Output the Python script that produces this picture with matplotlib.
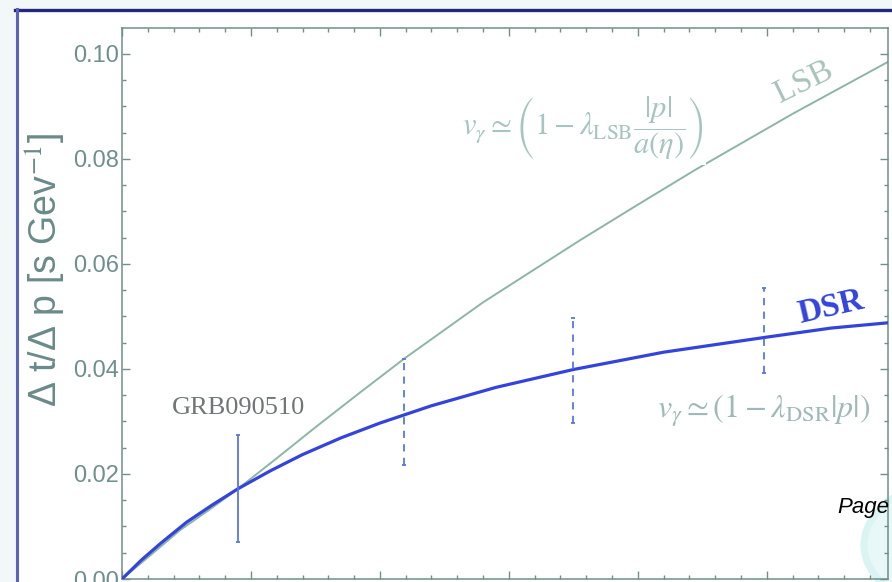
import matplotlib
matplotlib.use("Agg")
import matplotlib.pyplot as plt
import matplotlib.patches as mpatches
from matplotlib.lines import Line2D
import numpy as np

# ---------------------------------------------------------------------------
# Data: time delay per unit momentum vs redshift
# ---------------------------------------------------------------------------
LSB_Z = [0.0, 0.2, 0.45, 0.7, 0.9, 1.2, 1.5, 1.85, 2.19, 2.8, 3.55, 4.0, 4.45, 5.2, 5.94]
LSB_DT = [0.0, 0.0041, 0.0093, 0.0136, 0.0172, 0.0230, 0.0289, 0.0356, 0.0420, 0.0527,
          0.0645, 0.0713, 0.0780, 0.0886, 0.0985]

DSR_Z = [0.0, 0.15, 0.3, 0.5, 0.7, 0.9, 1.15, 1.4, 1.7, 2.0, 2.4, 2.9, 3.5, 4.2,
         4.98, 5.5, 5.94]
DSR_DT = [0.0, 0.0036, 0.0068, 0.0108, 0.0141, 0.0172, 0.0206, 0.0237, 0.0269, 0.0297,
          0.0330, 0.0365, 0.0399, 0.0432, 0.0460, 0.0478, 0.0488]

# GRB090510 measurement
GRB_Z = 0.9
GRB_DT = 0.0172
GRB_ERR = 0.0102

# projected sensitivities (dashed)
PROJ_Z = [2.19, 3.5, 4.98]
PROJ_DT = [0.0318, 0.0399, 0.0460]
PROJ_ERR_LO = [0.0100, 0.0101, 0.0068]
PROJ_ERR_HI = [0.0101, 0.0099, 0.0095]

YTICKS = [0.00, 0.02, 0.04, 0.06, 0.08, 0.10]

# ---------------------------------------------------------------------------
# Style
# ---------------------------------------------------------------------------
plt.rcParams["mathtext.fontset"] = "stix"
AXIS_C = "#6f8f88"
LSB_C = "#8db5a5"
DSR_C = "#3344dd"
ERR_C = "#5577e6"
FORM_C = "#a6c4c2"

W, H = 892, 582
fig = plt.figure(figsize=(W / 100, H / 100), dpi=100)
fig.patch.set_facecolor("#f2f8f8")


def px(x, y):
    return x / W, 1 - y / H


# slide frame
fig.patches.append(mpatches.Rectangle(px(16, H), (W - 16) / W, (H - 10) / H,
                                      transform=fig.transFigure, facecolor="white",
                                      edgecolor="none", zorder=-2))
fig.patches.append(mpatches.Circle(px(968, 545), 104 / W, transform=fig.transFigure,
                                   facecolor="#e8f8f8", edgecolor="#daf3f3", linewidth=5,
                                   zorder=-1))
fig.lines.append(Line2D([15 / W, 1], [1 - 10 / H] * 2, transform=fig.transFigure,
                        color="#23287a", linewidth=2.4, zorder=3))
fig.lines.append(Line2D([16.5 / W] * 2, [0, 1 - 9 / H], transform=fig.transFigure,
                        color="#5a64b8", linewidth=2.2, zorder=3))

ax = fig.add_axes([122 / W, 3 / H, (888 - 122) / W, (579 - 28) / H])
ax.set_zorder(1)
ax.set_facecolor("none")

ax.plot(LSB_Z, LSB_DT, color=LSB_C, linewidth=1.4, zorder=2)
ax.plot(DSR_Z, DSR_DT, color=DSR_C, linewidth=2.3, zorder=3)

ax.errorbar([GRB_Z], [GRB_DT], yerr=[[GRB_ERR], [GRB_ERR]], fmt="none",
            ecolor=ERR_C, elinewidth=1.3, capsize=1.5, capthick=1.3, zorder=4)
eb = ax.errorbar(PROJ_Z, PROJ_DT, yerr=[PROJ_ERR_LO, PROJ_ERR_HI], fmt="none",
                 ecolor=ERR_C, elinewidth=1.3, capsize=1.5, capthick=1.3, zorder=4)
eb[2][0].set_linestyle((0, (4, 3.5)))

ax.set_xlim(0, 5.94)
ax.set_ylim(0, 0.10495)
ax.set_xticks(np.arange(0, 6, 1))
ax.set_xticks(np.arange(0, 6, 0.2), minor=True)
ax.set_xticklabels([])
ax.set_yticks(YTICKS)
ax.set_yticks(np.arange(0, 0.105, 0.005), minor=True)
ax.set_yticklabels([f"{v:.2f}" for v in YTICKS], family="Liberation Sans",
                   fontsize=17, color="#6f8f8f")
ax.tick_params(which="both", direction="in", top=True, right=True, color=AXIS_C, width=1)
ax.tick_params(which="major", length=6, pad=2)
ax.tick_params(which="minor", length=3)
for s in ax.spines.values():
    s.set_color(AXIS_C)
    s.set_linewidth(1.1)

fig.text(45 / W, 1 - 270 / H, r"Δ t/Δ p [s Gev$^{-1}$]", rotation=90, ha="center",
         va="center", fontsize=27, color="#6a8a8a", family="Liberation Sans")

# annotations
ax.text(0.9, 0.0325, "GRB090510", family="Liberation Serif", fontsize=19,
        color="#6e7676", ha="center", va="center")
ax.text(5.29, 0.0947, "LSB", family="Liberation Serif", fontsize=24, color="#a9c3bc",
        rotation=26, ha="center", va="center")
ax.text(5.5, 0.0518, "DSR", family="Liberation Serif", fontsize=24, fontweight="bold",
        color=DSR_C, rotation=13, ha="center", va="center")
ax.text(3.57, 0.0859,
        r"$v_\gamma \simeq \left(1 - \lambda_{\rm LSB}\dfrac{|p|}{a(\eta)}\right)$",
        fontsize=22, color=FORM_C, ha="center", va="center", zorder=5,
        bbox=dict(facecolor="white", edgecolor="none", pad=2))
ax.text(4.98, 0.0320, r"$v_\gamma \simeq (1 - \lambda_{\rm DSR}|p|)$",
        fontsize=23, color="#9fb8b8", ha="center", va="center")

fig.text(837 / W, 1 - 513 / H, "Page", family="Liberation Sans", style="italic",
         fontsize=16, color="black", ha="left", va="baseline")

fig.savefig("out.png", dpi=100, facecolor=fig.get_facecolor())
